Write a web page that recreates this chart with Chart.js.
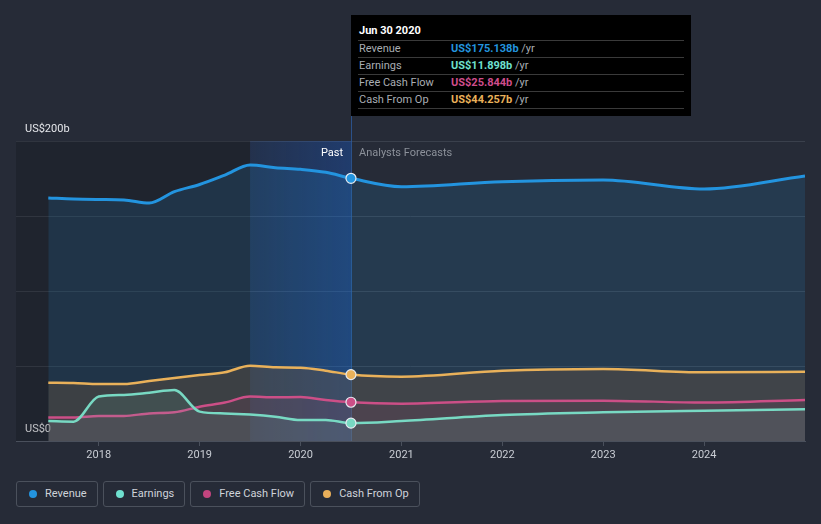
<!DOCTYPE html>
<html>
<head>
<meta charset="utf-8">
<script src="https://cdn.jsdelivr.net/npm/chart.js@4.4.1/dist/chart.umd.min.js"></script>
<style>
  html, body { margin: 0; padding: 0; background: #262b37; }
  body { width: 821px; height: 524px; position: relative; overflow: hidden; font-family: Roboto, 'Noto Sans', sans-serif; }
  #wrap { position: absolute; left: 0; top: 0; width: 821px; height: 470px; }
  .tip { position: absolute; left: 351px; top: 15px; width: 340px; height: 101px; background: #000; }
  .tip .ttl { position: absolute; left: 8px; top: 9px; color: #fff; font-size: 11px; font-weight: bold; }
  .tip .row { position: absolute; left: 7px; width: 326px; height: 16px; border-top: 1px solid #3a3a3a; font-size: 11px; line-height: 16px; }
  .tip .row .k { position: absolute; left: 1px; color: #a9adb3; }
  .tip .row .v { position: absolute; left: 93px; font-weight: bold; }
  .tip .row .v span { color: #a9adb3; font-weight: normal; }
  .tag { position: absolute; top: 146px; font-size: 11px; }
  .legend { position: absolute; top: 481px; left: 16px; display: flex; gap: 5px; }
  .legend div { border: 1px solid #4b515c; border-radius: 3px; box-sizing: border-box; height: 26px;
    font-size: 11px; color: #cfd3da; line-height: 24px; padding: 0 10px 0 28px; position: relative; }
  .legend i { position: absolute; left: 12px; top: 8px; width: 8px; height: 8px; border-radius: 50%; }
</style>
</head>
<body>
<div id="wrap"><canvas id="chart"></canvas></div>

<div class="tip">
  <div class="ttl">Jun 30 2020</div>
  <div class="row" style="top:25px"><span class="k">Revenue</span><span class="v" style="color:#2394df">US$175.138b <span>/yr</span></span></div>
  <div class="row" style="top:42px"><span class="k">Earnings</span><span class="v" style="color:#6fe0cf">US$11.898b <span>/yr</span></span></div>
  <div class="row" style="top:59px"><span class="k">Free Cash Flow</span><span class="v" style="color:#cf4d8c">US$25.844b <span>/yr</span></span></div>
  <div class="row" style="top:76px"><span class="k">Cash From Op</span><span class="v" style="color:#e9b15a">US$44.257b <span>/yr</span></span></div>
  <div class="row" style="top:93px;height:0"></div>
</div>

<div class="tag" id="tag-past" style="color:#fff">Past</div>
<div class="tag" id="tag-fc" style="color:#8c919a">Analysts Forecasts</div>

<div class="legend">
  <div><i style="background:#2394df"></i>Revenue</div>
  <div><i style="background:#6fe0cf"></i>Earnings</div>
  <div><i style="background:#c2457e"></i>Free Cash Flow</div>
  <div><i style="background:#e8af5a"></i>Cash From Op</div>
</div>

<script>
// ── Data (US$ billions, trailing twelve months; annual analyst forecasts after mid-2020)
const years    = [2017.5, 2017.75, 2018, 2018.25, 2018.5, 2018.75, 2019, 2019.25, 2019.5, 2019.75, 2020, 2020.25, 2020.5, 2021, 2022, 2023, 2024, 2025];
const revenue  = [162, 161.3, 161, 160.7, 158.6, 166.2, 171, 177.3, 184, 182.2, 181.1, 179.1, 175.138, 169.5, 172.9, 174, 168, 176.7];
const earnings = [13.3, 12.9, 29.6, 30.7, 32.2, 34, 19.6, 18.4, 17.6, 16.2, 14, 14, 11.898, 13.3, 17.3, 19.1, 20.2, 21.1];
const fcf      = [15.6, 15.6, 16.7, 16.7, 18.4, 19.1, 22.9, 25.6, 29.6, 29.1, 29.3, 27.3, 25.844, 24.9, 26.7, 26.9, 25.6, 27.3];
const cfo      = [38.9, 38.7, 38, 38, 40, 42, 44, 45.8, 50.2, 49.1, 48.9, 46.9, 44.257, 42.9, 46.9, 48, 45.8, 46.2];
const xTicks   = [2018, 2019, 2020, 2021, 2022, 2023, 2024];
const yLabels  = { 0: 'US$0', 200: 'US$200b' };

const PAST_START = 2019.5;   // start of highlighted band
const NOW = 2020.5;          // Jun 30 2020

const pts = arr => arr.map((v, i) => ({ x: years[i], y: v }));

function series(label, data, color, fill, width, order) {
  return {
    label, data: pts(data), order,
    borderColor: color, backgroundColor: fill, fill: 'origin',
    borderWidth: width, cubicInterpolationMode: 'monotone',
    pointRadius: c => (c.raw && c.raw.x === NOW ? 5 : 0),
    pointBackgroundColor: color, pointBorderColor: '#e8ecf2', pointBorderWidth: 1.2,
    pointHoverRadius: 0
  };
}

// background bands + "now" marker
const bands = {
  id: 'bands',
  beforeDatasetsDraw(chart) {
    const { ctx, chartArea: a, scales: { x } } = chart;
    const xs = x.getPixelForValue(PAST_START), xn = x.getPixelForValue(NOW);
    ctx.save();
    ctx.fillStyle = 'rgba(0,0,0,0.16)';
    ctx.fillRect(a.left, a.top, xs - a.left, a.bottom - a.top);
    const g = ctx.createLinearGradient(xs, 0, xn, 0);
    g.addColorStop(0, 'rgba(20,100,235,0.12)');
    g.addColorStop(1, 'rgba(20,100,235,0.30)');
    ctx.fillStyle = g;
    ctx.fillRect(xs, a.top, xn - xs, a.bottom - a.top);
    ctx.strokeStyle = 'rgba(45,95,165,0.75)';
    ctx.lineWidth = 1;
    ctx.beginPath();
    ctx.moveTo(Math.round(xn) + 0.5, 116);
    ctx.lineTo(Math.round(xn) + 0.5, a.bottom);
    ctx.stroke();
    ctx.restore();
  }
};

const chart = new Chart(document.getElementById('chart'), {
  type: 'line',
  data: {
    datasets: [
      series('Revenue',        revenue,  '#2394df', 'rgba(35,148,223,0.15)', 3,   4),
      series('Cash From Op',   cfo,      '#e9b15a', 'rgba(120,90,60,0.32)',  2.5, 3),
      series('Free Cash Flow', fcf,      '#cc4f87', 'rgba(200,70,130,0.09)', 2.5, 2),
      series('Earnings',       earnings, '#78d9c3', 'rgba(120,217,195,0.10)', 2.5, 1)
    ]
  },
  options: {
    responsive: true, maintainAspectRatio: false, animation: false,
    layout: { padding: { top: 141, left: 16, right: 16, bottom: 0 } },
    plugins: { legend: { display: false }, tooltip: { enabled: false } },
    events: [],
    scales: {
      x: {
        type: 'linear', min: 2017.18, max: 2025,
        afterBuildTicks: s => { s.ticks = xTicks.map(v => ({ value: v })); },
        afterFit: s => { s.height = 29; },
        ticks: { color: '#c9cdd4', font: { size: 11, family: 'Roboto' }, padding: 3, callback: v => String(v), maxRotation: 0 },
        grid: { drawOnChartArea: false, drawTicks: true, tickLength: 5, color: '#4a505c' },
        border: { display: true, color: '#4a505c', width: 1 }
      },
      y: {
        min: 0, max: 200,
        afterBuildTicks: s => { s.ticks = [0, 50, 100, 150, 200].map(v => ({ value: v })); },
        afterFit: s => { s.width = 0; },
        ticks: { mirror: true, padding: 9, labelOffset: -12, color: '#e4e6ea', font: { size: 11, family: 'Roboto' },
                 callback: v => yLabels[v] || '' },
        grid: { color: '#3a404c', drawTicks: false, lineWidth: 1 },
        border: { display: false }
      }
    }
  },
  plugins: [bands]
});

// place Past / Analysts Forecasts tags around the "now" line
const xn = chart.scales.x.getPixelForValue(NOW);
const past = document.getElementById('tag-past');
past.style.left = (xn - 8 - past.offsetWidth) + 'px';
document.getElementById('tag-fc').style.left = (xn + 8) + 'px';
</script>
</body>
</html>
